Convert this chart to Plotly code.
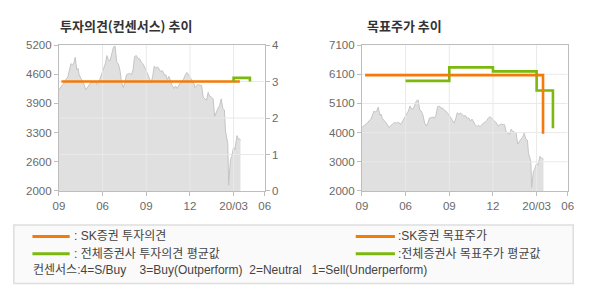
import plotly.graph_objects as go

# ---------------- data ----------------
# x positions in months from left edge of the axis
month_pos = [0.00, 0.16, 0.27, 0.38, 0.49, 0.61, 0.72, 0.83, 0.94, 1.05, 1.12, 1.23, 1.32, 1.39, 1.50,
             1.62, 1.73, 1.84, 1.95, 2.06, 2.18, 2.29, 2.40, 2.51, 2.62, 2.74, 2.85, 2.96, 3.07, 3.19,
             3.30, 3.41, 3.52, 3.63, 3.75, 3.86, 3.97, 4.08, 4.19, 4.31, 4.42, 4.53, 4.64, 4.76, 4.87,
             4.98, 5.09, 5.20, 5.32, 5.43, 5.54, 5.65, 5.76, 5.88, 5.99, 6.10, 6.21, 6.33, 6.44, 6.55,
             6.66, 6.77, 6.89, 7.00, 7.11, 7.22, 7.34, 7.45, 7.56, 7.67, 7.78, 7.90, 8.01, 8.12, 8.23,
             8.34, 8.46, 8.57, 8.68, 8.79, 8.91, 9.02, 9.13, 9.24, 9.35, 9.47, 9.58, 9.69, 9.80, 9.91,
             10.03, 10.14, 10.25, 10.36, 10.48, 10.59, 10.70, 10.81, 10.92, 11.04, 11.15, 11.26, 11.37,
             11.44, 11.53, 11.60, 11.66, 11.71, 11.78, 11.87, 11.93, 12.00, 12.09, 12.16, 12.23, 12.32,
             12.40, 12.47]
price = [4218, 4302, 4337, 4372, 4456, 4498, 4653, 4793, 4758, 4828, 4933, 4653, 4688, 4547, 4477,
         4407, 4337, 4218, 4267, 4337, 4372, 4386, 4372, 4407, 4337, 4386, 4477, 4583, 4688, 4793,
         4969, 4863, 4863, 5004, 5158, 5179, 4828, 4793, 4653, 4372, 4267, 4372, 4547, 4569, 4583,
         4547, 4653, 4948, 4969, 4898, 4898, 4828, 4793, 4723, 4653, 4547, 4477, 4372, 4512, 4737,
         4688, 4723, 4653, 4618, 4639, 4547, 4547, 4442, 4512, 4407, 4316, 4246, 4302, 4246, 4316,
         4372, 4407, 4456, 4547, 4597, 4547, 4477, 4428, 4386, 4267, 4316, 4337, 4316, 4316, 4056,
         4021, 3986, 4162, 4077, 4056, 4021, 3635, 3740, 3811, 3881, 4021, 3811, 3776,
         3319, 3179, 3039, 2126, 2407, 2688, 2758, 2863, 2968, 2898, 3109, 3214, 3144,
         3144, 3109]

# opinion (consensus) chart
sk_opinion_x = [0.18, 12.43]
sk_opinion_y = [3.0, 3.0]
avg_opinion_x = [12.0, 12.0, 13.12]
avg_opinion_y = [3.0, 3.1, 3.0]

# target price chart
sk_target_x = [0.22, 12.44]
sk_target_y = [6050, 4000]
avg_target_x = [3.0, 6.0, 9.0, 12.0, 13.12]
avg_target_y = [5850, 6320, 6180, 5510, 4190]

x_tickvals = [0, 3, 6, 9, 12, 14.13]
x_ticktext = ["09", "06", "09", "12", "20/03", "06"]
y1_tickvals = [2000, 2640, 3280, 3920, 4560, 5200]
y1_ticktext = ["2000", "2600", "3300", "3900", "4600", "5200"]
y2_tickvals = [0, 1, 2, 3, 4]
y3_tickvals = [2000, 3020, 4040, 5060, 6080, 7100]
y3_ticktext = ["2000", "3000", "4000", "5100", "6100", "7100"]

titles = ["투자의견(컨센서스) 추이", "목표주가 추이"]
legend_labels = [": SK증권 투자의견", ": 전체증권사 투자의견 평균값", ":SK증권 목표주가", ":전체증권사 목표주가 평균값"]
consensus_note = "컨센서스:4=S/Buy    3=Buy(Outperform)  2=Neutral   1=Sell(Underperform)"

# ---------------- styles ----------------
W, H = 590, 300
ORANGE = "#f47a0a"
GREEN = "#7cb80e"
FILL = "#e0e0e0"
FILL_LINE = "#c4c4c4"
AXIS = "#bdbdbd"
GRID = "#e9e9e9"
TICKFONT = dict(family="Liberation Sans, Arial, sans-serif", size=11.5, color="#6a6a6a")
KFONT = "Noto Sans CJK KR, sans-serif"

def px_x(p):
    return p / W

def px_y(p):
    return 1 - p / H

ydom = [px_y(192.7), px_y(40.7)]
xdom1 = [px_x(54), px_x(264)]
xdom2 = [px_x(363.3), px_x(573.3)]
xrange = [0, 14.13]
y1range = [2000, 5200]
y2range = [0, 4]
y3range = [2000, 7100]


def vgrid(vals, yr):
    xs, ys = [], []
    for v in vals:
        xs += [v, v, None]
        ys += [yr[0], yr[1], None]
    return xs, ys


def hgrid(vals, xr):
    xs, ys = [], []
    for v in vals:
        xs += [xr[0], xr[1], None]
        ys += [v, v, None]
    return xs, ys


grid_line = dict(color=GRID, width=1)
inner_x = x_tickvals[1:-1]

fig = go.Figure()

# ---- left chart ----
fig.add_trace(go.Scatter(x=month_pos, y=price, mode="lines", fill="tozeroy",
                         fillcolor=FILL, line=dict(color=FILL_LINE, width=1),
                         xaxis="x", yaxis="y", hoverinfo="skip"))
gx, gy = vgrid(inner_x, y1range)
fig.add_trace(go.Scatter(x=gx, y=gy, mode="lines", line=grid_line, xaxis="x", yaxis="y",
                         hoverinfo="skip"))
gx, gy = hgrid(y2_tickvals[1:-1], xrange)
fig.add_trace(go.Scatter(x=gx, y=gy, mode="lines", line=grid_line, xaxis="x", yaxis="y2",
                         hoverinfo="skip"))
fig.add_trace(go.Scatter(x=sk_opinion_x, y=sk_opinion_y, mode="lines",
                         line=dict(color=ORANGE, width=2.6), xaxis="x", yaxis="y2"))
fig.add_trace(go.Scatter(x=avg_opinion_x, y=avg_opinion_y, mode="lines", line_shape="hv",
                         line=dict(color=GREEN, width=2.6), xaxis="x", yaxis="y2"))

# ---- right chart ----
fig.add_trace(go.Scatter(x=month_pos, y=price, mode="lines", fill="tozeroy",
                         fillcolor=FILL, line=dict(color=FILL_LINE, width=1),
                         xaxis="x2", yaxis="y3", hoverinfo="skip"))
gx, gy = vgrid(inner_x, y3range)
fig.add_trace(go.Scatter(x=gx, y=gy, mode="lines", line=grid_line, xaxis="x2", yaxis="y3",
                         hoverinfo="skip"))
gx, gy = hgrid(y3_tickvals[1:-1], xrange)
fig.add_trace(go.Scatter(x=gx, y=gy, mode="lines", line=grid_line, xaxis="x2", yaxis="y3",
                         hoverinfo="skip"))
fig.add_trace(go.Scatter(x=avg_target_x, y=avg_target_y, mode="lines", line_shape="hv",
                         line=dict(color=GREEN, width=2.6), xaxis="x2", yaxis="y3"))
fig.add_trace(go.Scatter(x=sk_target_x, y=sk_target_y, mode="lines", line_shape="hv",
                         line=dict(color=ORANGE, width=2.6), xaxis="x2", yaxis="y3"))

common_x = dict(range=xrange, tickvals=x_tickvals, ticktext=x_ticktext, showgrid=False,
                zeroline=False, showline=True, linecolor=AXIS, linewidth=1, mirror=True,
                ticks="outside", ticklen=4, tickcolor=AXIS, tickfont=TICKFONT, fixedrange=True)
common_y = dict(showgrid=False, zeroline=False, showline=True, linecolor=AXIS, linewidth=1,
                ticks="outside", ticklen=4, tickcolor=AXIS, tickfont=TICKFONT, fixedrange=True)

shapes = []
# legend box
shapes.append(dict(type="rect", xref="paper", yref="paper", x0=px_x(8), x1=px_x(579),
                   y0=px_y(289), y1=px_y(228), fillcolor="#fafafa",
                   line=dict(color="#dedede", width=1.5), layer="below"))
leg_rows = [240, 258]
leg_cols = [(27, 65), (357, 397)]
leg_colors = [ORANGE, GREEN]
for (x0, x1) in leg_cols:
    for ry, col in zip(leg_rows, leg_colors):
        shapes.append(dict(type="line", xref="paper", yref="paper", x0=px_x(x0), x1=px_x(x1),
                           y0=px_y(ry), y1=px_y(ry), line=dict(color=col, width=3)))

annotations = []
annotations.append(dict(text="<b>" + titles[0] + "</b>", xref="paper", yref="paper",
                        x=px_x(53), y=px_y(20), xanchor="left", yanchor="middle", showarrow=False,
                        font=dict(family=KFONT, size=13, color="#333333")))
annotations.append(dict(text="<b>" + titles[1] + "</b>", xref="paper", yref="paper",
                        x=px_x(366), y=px_y(20), xanchor="left", yanchor="middle", showarrow=False,
                        font=dict(family=KFONT, size=13, color="#333333")))
leg_pos = [(67, 240), (67, 258), (398, 240), (398, 258)]
for lab, (lx, ly) in zip(legend_labels, leg_pos):
    annotations.append(dict(text=lab, xref="paper", yref="paper", x=px_x(lx), y=px_y(ly),
                            xanchor="left", yanchor="middle", showarrow=False,
                            font=dict(family="Liberation Sans, " + KFONT, size=12, color="#444444")))
annotations.append(dict(text=consensus_note.replace(" ", "&nbsp;"), xref="paper", yref="paper",
                        x=px_x(26), y=px_y(275), xanchor="left", yanchor="middle", showarrow=False,
                        font=dict(family="Liberation Sans, " + KFONT, size=12, color="#444444")))

fig.update_layout(
    width=W, height=H, margin=dict(l=0, r=0, t=0, b=0),
    paper_bgcolor="white", plot_bgcolor="white", showlegend=False,
    xaxis=dict(domain=xdom1, anchor="y", **common_x),
    yaxis=dict(domain=ydom, anchor="x", range=y1range, tickvals=y1_tickvals,
               ticktext=y1_ticktext, **common_y),
    yaxis2=dict(overlaying="y", side="right", anchor="x", range=y2range, tickvals=y2_tickvals,
                **common_y),
    xaxis2=dict(domain=xdom2, anchor="y3", **common_x),
    yaxis3=dict(domain=ydom, anchor="x2", range=y3range, tickvals=y3_tickvals,
                ticktext=y3_ticktext, mirror=True, **common_y),
    shapes=shapes, annotations=annotations,
)

fig.write_html("out.html")
